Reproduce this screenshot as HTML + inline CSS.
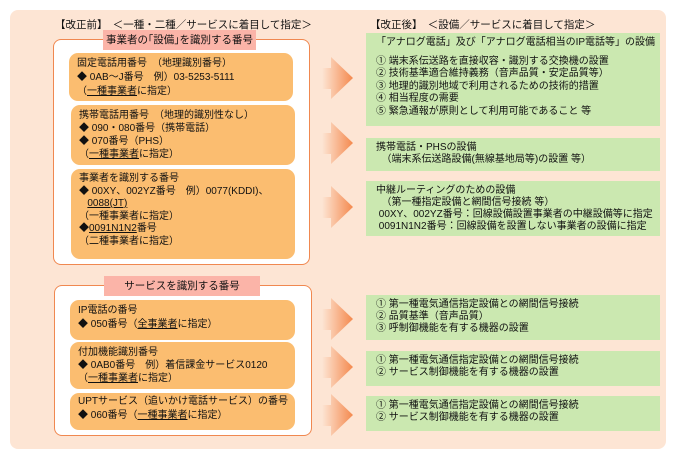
<!DOCTYPE html>
<html><head><meta charset="utf-8"><style>
body{margin:0;width:675px;height:459px;background:#fff;position:relative;overflow:hidden;font-family:"Liberation Sans","Noto Sans CJK JP",sans-serif;font-size:10px;color:#111;}
div{position:absolute;box-sizing:border-box;}
.bg{left:10px;top:10px;width:656px;height:439px;background:#fde5d4;border-radius:8px;}
.wb{background:#fff;border:1px solid #f08850;border-radius:8px;}
.pk{background:#fbb4a8;text-align:center;line-height:20px;font-size:10.5px;}
.or{background:#fbbd70;border-radius:9px;padding:4px 8px;line-height:14px;white-space:nowrap;}
.gr{background:#cbe8b0;padding:4px 10px;line-height:12px;white-space:nowrap;}
.h{white-space:nowrap;font-size:10.5px;}
u{text-decoration:underline;}
svg{position:absolute;}
</style></head><body>
<div class="bg"></div>
<div class="h" style="left:55px;top:17px">【改正前】　＜一種・二種／サービスに着目して指定＞</div>
<div class="h" style="left:370px;top:17px">【改正後】　＜設備／サービスに着目して指定＞</div>

<div class="wb" style="left:53px;top:39px;width:257px;height:226px"></div>
<div class="pk" style="left:103px;top:30px;width:153px;height:20px">事業者の｢設備｣を識別する番号</div>
<div class="or" style="left:69px;top:53px;width:224px;height:48px">固定電話用番号　（地理識別番号）<br>◆ 0AB～J番号　例）03-5253-5111<br>（<u>一種事業者</u>に指定）</div>
<div class="or" style="left:71px;top:105px;width:224px;height:60px;line-height:13px">携帯電話用番号　（地理的識別性なし）<br>◆ 090・080番号（携帯電話）<br>◆ 070番号（PHS）<br>（<u>一種事業者</u>に指定）</div>
<div class="or" style="left:71px;top:169px;width:224px;height:90px;line-height:12.5px">事業者を識別する番号<br>◆ 00XY、002YZ番号　例）0077(KDDI)、<br>&nbsp;&nbsp;&nbsp;<u>0088(JT)</u><br>（一種事業者に指定）<br>◆<u>0091N1N2</u>番号<br>（二種事業者に指定）</div>

<div class="wb" style="left:54px;top:285px;width:258px;height:151px"></div>
<div class="pk" style="left:104px;top:276px;width:156px;height:20px">サービスを識別する番号</div>
<div class="or" style="left:70px;top:300px;width:225px;height:40px">IP電話の番号<br>◆ 050番号（<u>全事業者</u>に指定）</div>
<div class="or" style="left:70px;top:342px;width:225px;height:47px;line-height:13px">付加機能識別番号<br>◆ 0AB0番号　例）着信課金サービス0120<br>（<u>一種事業者</u>に指定）</div>
<div class="or" style="left:70px;top:393px;width:225px;height:37px;padding-top:2px">UPTサービス（追いかけ電話サービス）の番号<br>◆ 060番号（<u>一種事業者</u>に指定）</div>

<svg width="675" height="459" style="left:0;top:0">
<defs><linearGradient id="g" x1="0" x2="1"><stop offset="0" stop-color="#fde5d4"/><stop offset="1" stop-color="#f4894e"/></linearGradient></defs>
<g fill="url(#g)">
<polygon points="322,68 331,68 331,57 353,78 331,99 331,89 322,89"/>
<polygon points="322,133 331,133 331,122 353,143 331,164 331,154 322,154"/>
<polygon points="322,197 331,197 331,186 353,207 331,228 331,218 322,218"/>
<polygon points="322,309 331,309 331,298 353,319 331,340 331,330 322,330"/>
<polygon points="322,357 331,357 331,346 353,367 331,388 331,378 322,378"/>
<polygon points="322,405 331,405 331,394 353,415 331,436 331,426 322,426"/>
</g></svg>

<div class="gr" style="left:366px;top:33px;width:294px;height:93px;line-height:12.5px">「アナログ電話」及び「アナログ電話相当のIP電話等」の設備<br><span style="line-height:8px;display:block;height:6px"></span>① 端末系伝送路を直接収容・識別する交換機の設置<br>② 技術基準適合維持義務（音声品質・安定品質等）<br>③ 地理的識別地域で利用されるための技術的措置<br>④ 相当程度の需要<br>⑤ 緊急通報が原則として利用可能であること 等</div>
<div class="gr" style="left:366px;top:138px;width:294px;height:33px">携帯電話・PHSの設備<br>&nbsp;&nbsp;（端末系伝送路設備(無線基地局等)の設置 等）</div>
<div class="gr" style="left:366px;top:181px;width:294px;height:55px">中継ルーティングのための設備<br>&nbsp;&nbsp;（第一種指定設備と網間信号接続 等）<br>&nbsp;00XY、002YZ番号：回線設備設置事業者の中継設備等に指定<br>&nbsp;0091N1N2番号：回線設備を設置しない事業者の設備に指定</div>
<div class="gr" style="left:366px;top:295px;width:294px;height:45px">① 第一種電気通信指定設備との網間信号接続<br>② 品質基準（音声品質）<br>③ 呼制御機能を有する機器の設置</div>
<div class="gr" style="left:366px;top:351px;width:294px;height:35px">① 第一種電気通信指定設備との網間信号接続<br>② サービス制御機能を有する機器の設置</div>
<div class="gr" style="left:366px;top:396px;width:294px;height:35px">① 第一種電気通信指定設備との網間信号接続<br>② サービス制御機能を有する機器の設置</div>
</body></html>
